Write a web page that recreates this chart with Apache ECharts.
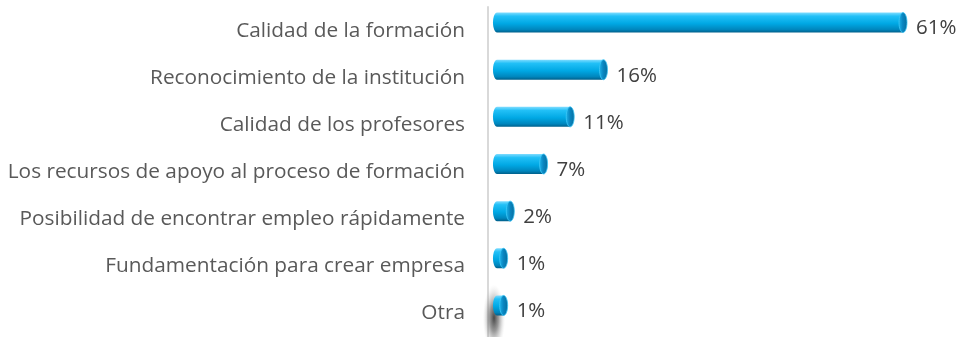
<!DOCTYPE html>
<html>
<head>
<meta charset="utf-8">
<script src="https://cdn.jsdelivr.net/npm/echarts@6/dist/echarts.min.js"></script>
<style>
  html, body { margin: 0; padding: 0; background: #ffffff; }
  #chart { width: 964px; height: 337px; }
</style>
</head>
<body>
<div id="chart"></div>
<script>
// Motivos de elección, porcentaje de respuestas
const categories = [
  'Calidad de la formación',
  'Reconocimiento de la institución',
  'Calidad de los profesores',
  'Los recursos de apoyo al proceso de formación',
  'Posibilidad de encontrar empleo rápidamente',
  'Fundamentación para crear empresa',
  'Otra'
];
const values = [61, 16, 11, 7, 2, 1, 1];

const FONT = '"Open Sans", "Noto Sans", sans-serif';

const chart = echarts.init(document.getElementById('chart'), null, { renderer: 'canvas' });

// Cylinder-like bar: rounded left end, vertical shading, elliptical cap on the right
function renderCylinder(params, api) {
  const v = api.value(0);
  const idx = api.value(1);
  const p0 = api.coord([0, idx]);
  const p1 = api.coord([v, idx]);
  const h = 20;
  const rx = 4;
  const cy = p0[1] - 8;
  const top = cy - h / 2;
  const x0 = p0[0];
  const x1 = p1[0];
  const bodyGrad = new echarts.graphic.LinearGradient(0, 0, 0, 1, [
    { offset: 0, color: '#7fdcff' },
    { offset: 0.18, color: '#22c0f7' },
    { offset: 0.55, color: '#00a8e4' },
    { offset: 0.85, color: '#0086bd' },
    { offset: 1, color: '#005f8a' }
  ]);
  const capGrad = new echarts.graphic.LinearGradient(0, 0, 1, 0, [
    { offset: 0, color: '#1fb5ec' },
    { offset: 0.45, color: '#0a87c2' },
    { offset: 1, color: '#066d9e' }
  ]);
  const k = 0.5523;
  const body = 'M' + x1 + ' ' + top +
    ' L' + x0 + ' ' + top +
    ' C' + (x0 - rx * k) + ' ' + top + ' ' + (x0 - rx) + ' ' + (cy - h / 2 * k) + ' ' + (x0 - rx) + ' ' + cy +
    ' C' + (x0 - rx) + ' ' + (cy + h / 2 * k) + ' ' + (x0 - rx * k) + ' ' + (top + h) + ' ' + x0 + ' ' + (top + h) +
    ' L' + x1 + ' ' + (top + h) + ' Z';
  return {
    type: 'group',
    children: [
      { type: 'path', shape: { pathData: body }, style: { fill: bodyGrad } },
      { type: 'ellipse', shape: { cx: x1, cy: cy, rx: rx, ry: h / 2 }, style: { fill: capGrad, stroke: '#3cc6f6', lineWidth: 0.8 } },
      {
        type: 'text',
        x: x1 + rx + 9,
        y: p0[1] - 2,
        style: {
          text: v + '%',
          font: '20.5px ' + FONT,
          fill: '#404040',
          verticalAlign: 'middle',
          align: 'left'
        }
      }
    ]
  };
}

chart.setOption({
  animation: false,
  backgroundColor: '#ffffff',
  grid: { left: 488, right: 61, top: 7, bottom: -5, containLabel: false },
  xAxis: {
    type: 'value',
    min: -1.35,
    max: 61,
    show: false
  },
  yAxis: {
    type: 'category',
    data: categories,
    inverse: true,
    axisLine: { show: true, onZero: false, lineStyle: { color: '#d9d9d9', width: 2 } },
    axisTick: { show: false },
    splitLine: { show: false },
    axisLabel: {
      margin: 23,
      color: '#595959',
      fontSize: 20.8,
      fontFamily: FONT
    }
  },
  // soft grey smudge near the foot of the axis
  graphic: [{
    type: 'circle',
    z: 100,
    x: 494,
    y: 318,
    scaleX: 0.8,
    scaleY: 2.4,
    shape: { cx: 0, cy: 0, r: 14 },
    style: {
      fill: new echarts.graphic.RadialGradient(0.5, 0.5, 0.5, [
        { offset: 0, color: 'rgba(40,40,40,0.85)' },
        { offset: 0.4, color: 'rgba(70,70,70,0.55)' },
        { offset: 0.75, color: 'rgba(130,130,130,0.2)' },
        { offset: 1, color: 'rgba(200,200,200,0)' }
      ])
    }
  }],
  series: [{
    type: 'custom',
    z: 2,
    zlevel: 1,
    renderItem: renderCylinder,
    encode: { x: 0, y: 1 },
    data: values.map((v, i) => [v, i])
  }]
});
</script>
</body>
</html>
